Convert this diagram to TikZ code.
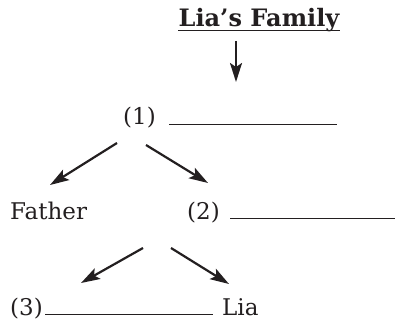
\documentclass[tikz,border=0pt]{standalone}
\usepackage{fontspec}
\setmainfont{DejaVu Serif}
\usetikzlibrary{arrows.meta}
\definecolor{ink}{HTML}{231F20}
\newcommand{\blank}[2]{\makebox[#1][l]{#2}\rule{168pt}{1.3pt}}
\tikzset{%
	word/.style    = {inner sep = 0pt, anchor = base west, text = ink,
		font = \fontsize{23}{27}\selectfont}, % Text
	heading/.style = {inner sep = 0pt, anchor = base, text = ink,
		font = \fontsize{24}{28}\selectfont\bfseries}, % Title
	branch/.style  = {draw = ink, line width = 2.2pt,
		-{Stealth[length = 19pt, width = 12pt, inset = 4pt]}} % Arrow
}
\begin{document}
\begin{tikzpicture}[x=1pt,y=1pt]
                \useasboundingbox (0,0) rectangle (395,321);
                \node[heading] (title) at (259,294) {Lia's Family};
                \node[word] (one)    at (123,196) {\blank{46pt}{(1)}};
                \node[word] (father) at (10,102)  {Father};
                \node[word] (two)    at (187,102) {\blank{43pt}{(2)}};
                \node[word] (three)  at (10,6)    {\blank{35pt}{(3)}};
                \node[word] (lia)    at (222,6)   {Lia};

                \draw[ink,line width=1.3pt] ([yshift=-3.5pt]title.base west) -- ([yshift=-3.5pt]title.base east);
                \draw[branch] ([shift={(-23,-14)}]title.base) -- ([shift={(113,43)}]one.base west);
                \draw[branch] ([shift={(-6,-18)}]one.base west) -- ([shift={(40,34)}]father.base west);
                \draw[branch] ([shift={(23,-20)}]one.base west) -- ([shift={(21,36)}]two.base west);
                \draw[branch] ([shift={(-44,-29)}]two.base west) -- ([shift={(71,32)}]three.base west);
                \draw[branch] ([shift={(-16,-29)}]two.base west) -- ([shift={(7,31)}]lia.base west);
            \end{tikzpicture}
\end{document}
